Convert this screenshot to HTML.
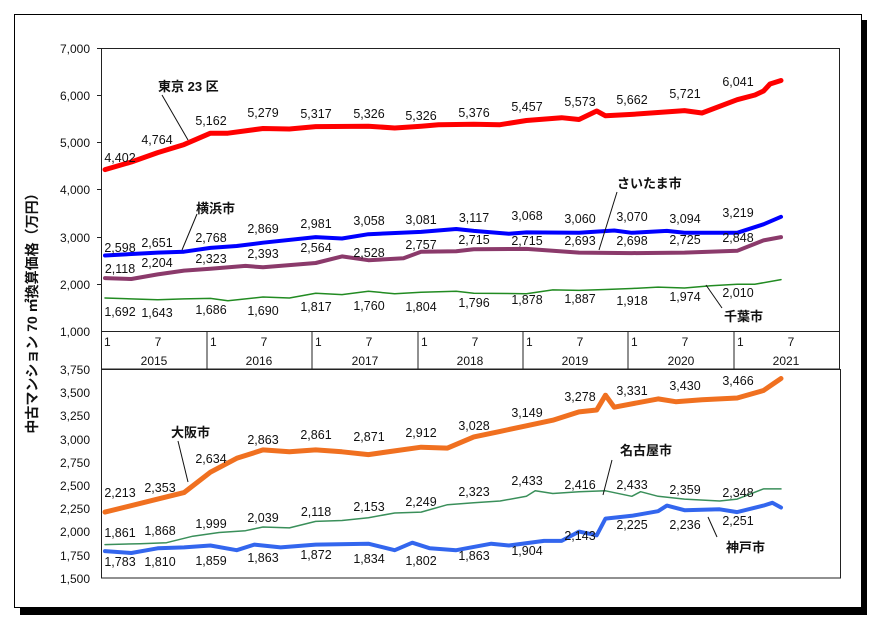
<!DOCTYPE html>
<html><head><meta charset="utf-8"><style>
body{margin:0;background:#fff;width:880px;height:627px;overflow:hidden}
svg{font-family:"Liberation Sans","Noto Sans CJK JP",sans-serif}
</style></head><body>
<svg width="880" height="627" xmlns="http://www.w3.org/2000/svg">
<rect x="0" y="0" width="880" height="627" fill="#fff"/>
<rect x="862" y="20" width="5" height="595" fill="#000"/>
<rect x="20" y="608" width="847" height="7" fill="#000"/>
<rect x="14.5" y="14.5" width="847" height="593" fill="none" stroke="#000"/>
<g fill="none" stroke-linejoin="round" stroke-linecap="round">
<polyline stroke="#ff0000" stroke-width="5" points="105,169.6 131.3,162 157.7,152.6 184,144.6 210.4,133.2 227.9,133.2 263,128.5 289.4,129 315.7,126.6 368.4,126.2 394.7,128 421.1,126.2 438.6,124.7 473.8,124.3 500,124.7 526.4,120.5 561.6,117.7 579,119.5 596.7,111 605.5,115.8 631.8,114.4 684.5,110.6 702,113 737.2,99.7 755,95 763.5,91 770,84 781,80.5"/>
<polyline stroke="#0000ff" stroke-width="4" points="105,255.5 157.7,252.6 184,251.7 210.4,247.9 236.7,246 263,242.7 315.7,237.1 342,238.5 368.4,234.2 421.1,231.9 456.2,229 473.8,230.9 508.9,233.8 526.4,232.4 579,232.8 614.2,230.5 631.8,232.8 666.9,230.9 684.5,232.8 737.2,232.8 763.5,224.3 781,216.8"/>
<polyline stroke="#8b3a6b" stroke-width="4" points="105,278.1 131.3,279 157.7,274.4 184,270.6 210.4,268.7 245.5,265.9 263,267.3 315.7,263 342,256.4 368.4,260.2 403.5,258.3 421.1,251.7 456.2,251.2 473.8,249.3 526.4,248.9 552.8,250.8 579,252.6 631.8,253.1 684.5,252.6 737.2,250.8 763.5,240.4 781,237.1"/>
<polyline stroke="#228b22" stroke-width="1.5" points="105,298 157.7,299.8 184,298.9 210.4,298.4 227.9,300.8 263,297 289.4,298 315.7,293.2 342,294.6 368.4,291.3 394.7,293.7 421.1,292.3 456.2,291.3 473.8,293.2 526.4,293.7 552.8,289.9 579,290.4 605.5,289.5 631.8,288.5 658.1,287.1 684.5,288 710.8,285.7 737.2,284.3 754.7,284.3 781,279.6"/>
<polyline stroke="#f07020" stroke-width="5" points="105,512.1 157.7,499.1 184,492.6 210.4,472.2 236.7,458.3 263,449.9 289.4,451.8 315.7,449.9 342,451.8 368.4,454.6 394.7,450.9 421.1,447.2 447.5,448.1 473.8,436.9 500.1,431.4 526.4,425.8 552.8,420.2 579,411.9 596.7,410 605.5,395.2 614.2,407.2 658.1,398.9 675.7,401.7 702,399.8 737.2,398 763.5,390.5 781,378.5"/>
<polyline stroke="#3a8f5a" stroke-width="1.5" points="105,544.6 140.1,543.7 166.5,542.7 192.8,536.2 219.1,532.5 245.5,530.7 263,527 289.4,527.9 315.7,521.4 342,520.5 368.4,517.7 394.7,513 421.1,512.1 447.5,504.7 473.8,502.8 500.1,501 526.4,496.3 535.2,490.7 552.8,493.5 579,491.7 605.5,490.8 631.8,496.3 640.6,491.7 658.1,496.3 684.5,499.1 719.6,501 737.2,499.1 763.5,488.9 781,488.9"/>
<polyline stroke="#3366ee" stroke-width="4" points="105,551.1 131.3,553 157.7,548.3 184,547.4 210.4,545.5 236.7,550.2 254.3,544.6 280.6,547.4 315.7,544.6 368.4,543.7 394.7,550.2 412.3,542.7 429.9,548.3 456.2,550.2 491.3,543.7 508.9,545.5 544,540.9 561.6,540.9 579,531.6 596.7,535.3 605.5,518.6 631.8,515.8 658.1,511.2 666.9,505.6 684.5,510.2 719.6,509.3 737.2,512.1 763.5,505.6 772.3,502.8 781,507.5"/>
</g>
<rect x="101.5" y="48.5" width="738" height="320.5" fill="none" stroke="#222"/>
<line x1="101" y1="331.5" x2="839" y2="331.5" stroke="#222"/>
<rect x="101.5" y="369.5" width="739" height="208.5" fill="none" stroke="#222"/>
<g stroke="#222">
<line x1="207" y1="331" x2="207" y2="369"/><line x1="312" y1="331" x2="312" y2="369"/><line x1="418" y1="331" x2="418" y2="369"/><line x1="523" y1="331" x2="523" y2="369"/><line x1="628" y1="331" x2="628" y2="369"/><line x1="734" y1="331" x2="734" y2="369"/>
<line x1="97" y1="48.5" x2="101" y2="48.5"/><line x1="97" y1="95.5" x2="101" y2="95.5"/><line x1="97" y1="142.5" x2="101" y2="142.5"/><line x1="97" y1="189.5" x2="101" y2="189.5"/><line x1="97" y1="237.5" x2="101" y2="237.5"/><line x1="97" y1="284.5" x2="101" y2="284.5"/>
</g>
<g font-size="12" text-anchor="end" fill="#111">
<text x="90" y="53">7,000</text><text x="90" y="100">6,000</text><text x="90" y="147">5,000</text><text x="90" y="194">4,000</text><text x="90" y="242">3,000</text><text x="90" y="289">2,000</text><text x="90" y="336">1,000</text>
<text x="90" y="374">3,750</text><text x="90" y="397">3,500</text><text x="90" y="420">3,250</text><text x="90" y="444">3,000</text><text x="90" y="467">2,750</text><text x="90" y="490">2,500</text><text x="90" y="513">2,250</text><text x="90" y="536">2,000</text><text x="90" y="560">1,750</text><text x="90" y="583">1,500</text>
</g>
<g font-size="12" fill="#111">
<text x="104" y="346">1</text><text x="210" y="346">1</text><text x="315" y="346">1</text><text x="421" y="346">1</text><text x="526" y="346">1</text><text x="631" y="346">1</text><text x="737" y="346">1</text>
</g>
<g font-size="12" fill="#111" text-anchor="middle">
<text x="158" y="346">7</text><text x="264" y="346">7</text><text x="369" y="346">7</text><text x="475" y="346">7</text><text x="580" y="346">7</text><text x="685" y="346">7</text><text x="791" y="346">7</text>
<text x="154" y="365">2015</text><text x="259" y="365">2016</text><text x="365" y="365">2017</text><text x="470" y="365">2018</text><text x="575" y="365">2019</text><text x="681" y="365">2020</text><text x="786" y="365">2021</text>
</g>
<text transform="translate(37,310) rotate(-90)" font-size="14" font-weight="bold" text-anchor="middle" fill="#111">中古マンション 70 ㎡換算価格（万円）</text>
<g font-size="12.5" fill="#111" text-anchor="middle">
<text x="120" y="162">4,402</text><text x="157" y="144">4,764</text><text x="211" y="125">5,162</text><text x="263" y="117">5,279</text><text x="316" y="118">5,317</text><text x="369" y="118">5,326</text><text x="421" y="120">5,326</text><text x="474" y="117">5,376</text><text x="527" y="111">5,457</text><text x="580" y="106">5,573</text><text x="632" y="104">5,662</text><text x="685" y="98">5,721</text><text x="738" y="86">6,041</text>
<text x="120" y="252">2,598</text><text x="157" y="247">2,651</text><text x="211" y="242">2,768</text><text x="263" y="233">2,869</text><text x="316" y="228">2,981</text><text x="369" y="225">3,058</text><text x="421" y="224">3,081</text><text x="474" y="222">3,117</text><text x="527" y="220">3,068</text><text x="580" y="223">3,060</text><text x="632" y="221">3,070</text><text x="685" y="223">3,094</text><text x="738" y="217">3,219</text>
<text x="120" y="273">2,118</text><text x="157" y="267">2,204</text><text x="211" y="263">2,323</text><text x="263" y="258">2,393</text><text x="316" y="252">2,564</text><text x="369" y="257">2,528</text><text x="421" y="249">2,757</text><text x="474" y="244">2,715</text><text x="527" y="245">2,715</text><text x="580" y="245">2,693</text><text x="632" y="245">2,698</text><text x="685" y="244">2,725</text><text x="738" y="242">2,848</text>
<text x="120" y="316">1,692</text><text x="157" y="317">1,643</text><text x="211" y="314">1,686</text><text x="263" y="315">1,690</text><text x="316" y="311">1,817</text><text x="369" y="310">1,760</text><text x="421" y="311">1,804</text><text x="474" y="307">1,796</text><text x="527" y="304">1,878</text><text x="580" y="303">1,887</text><text x="632" y="305">1,918</text><text x="685" y="301">1,974</text><text x="738" y="297">2,010</text>
<text x="120" y="497">2,213</text><text x="160" y="492">2,353</text><text x="211" y="463">2,634</text><text x="263" y="444">2,863</text><text x="316" y="439">2,861</text><text x="369" y="441">2,871</text><text x="421" y="437">2,912</text><text x="474" y="430">3,028</text><text x="527" y="417">3,149</text><text x="580" y="401">3,278</text><text x="632" y="395">3,331</text><text x="685" y="390">3,430</text><text x="738" y="385">3,466</text>
<text x="120" y="537">1,861</text><text x="160" y="535">1,868</text><text x="211" y="528">1,999</text><text x="263" y="522">2,039</text><text x="316" y="516">2,118</text><text x="369" y="511">2,153</text><text x="421" y="506">2,249</text><text x="474" y="496">2,323</text><text x="527" y="485">2,433</text><text x="580" y="489">2,416</text><text x="632" y="489">2,433</text><text x="685" y="494">2,359</text><text x="738" y="497">2,348</text>
<text x="120" y="566">1,783</text><text x="160" y="566">1,810</text><text x="211" y="565">1,859</text><text x="263" y="562">1,863</text><text x="316" y="559">1,872</text><text x="369" y="563">1,834</text><text x="421" y="565">1,802</text><text x="474" y="560">1,863</text><text x="527" y="555">1,904</text><text x="580" y="540">2,143</text><text x="632" y="529">2,225</text><text x="685" y="529">2,236</text><text x="738" y="525">2,251</text>
</g>
<g font-size="13" font-weight="bold" fill="#111">
<text x="158" y="91">東京 23 区</text><text x="196" y="213">横浜市</text><text x="617" y="188">さいたま市</text><text x="724" y="321">千葉市</text>
<text x="171" y="437">大阪市</text><text x="620" y="455">名古屋市</text><text x="726" y="552">神戸市</text>
</g>
<g stroke="#111" stroke-width="1">
<line x1="162" y1="95" x2="188" y2="140"/><line x1="197" y1="214" x2="182" y2="250"/><line x1="617" y1="192" x2="599" y2="250"/><line x1="706" y1="285" x2="722" y2="308"/>
<line x1="178" y1="441" x2="188" y2="482"/><line x1="612" y1="460" x2="603" y2="495"/><line x1="708" y1="517" x2="717" y2="537"/>
</g>
</svg>
</body></html>
